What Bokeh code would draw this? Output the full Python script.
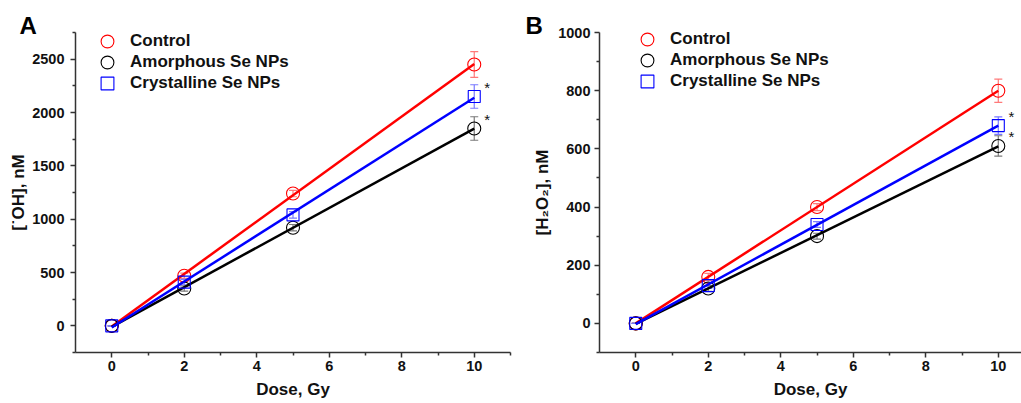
import numpy as np
from bokeh.plotting import figure
from bokeh.models import (Range1d, ColumnDataSource, Whisker, TeeHead, Legend, LegendItem,
                          Title, FixedTicker)
from bokeh.layouts import row
from bokeh.embed import file_html
from bokeh.resources import INLINE
from bokeh.core.properties import value

# ---------------- data ----------------
dose = [0, 2, 5, 10]
series_names = ["Control", "Amorphous Se NPs", "Crystalline Se NPs"]

oh_control = [0, 470, 1240, 2450]
oh_control_err = [0, 25, 30, 120]
oh_amorph = [0, 350, 920, 1850]
oh_amorph_err = [0, 25, 30, 110]
oh_cryst = [0, 410, 1040, 2150]
oh_cryst_err = [0, 25, 30, 110]

h2o2_control = [0, 160, 400, 800]
h2o2_control_err = [0, 12, 12, 40]
h2o2_amorph = [0, 120, 300, 610]
h2o2_amorph_err = [0, 10, 10, 35]
h2o2_cryst = [0, 130, 340, 680]
h2o2_cryst_err = [0, 10, 10, 30]

sig_flags = [False, True, True]   # asterisk at the 10 Gy point

x_ticks = [0, 2, 4, 6, 8, 10]
oh_ticks = [0, 500, 1000, 1500, 2000, 2500]
h2o2_ticks = [0, 200, 400, 600, 800, 1000]

colors = ["#FF0000", "#000000", "#0000FF"]
err_colors = ["#FF7A7A", "#7A7A7A", "#7A7AFF"]
markers = ["circle", "circle", "square"]

FONT = "Liberation Sans"


def make_panel(letter, letter_offset, ylabel, series, errs, yrange, xrange, yticks, yminor,
               width, bl, br, ystand, ylstand, legend_vx, legend_vys):
    p = figure(width=width, height=403, output_backend="svg", toolbar_location=None,
               x_range=Range1d(*xrange), y_range=Range1d(*yrange),
               min_border_left=bl, min_border_right=br, min_border_top=32,
               min_border_bottom=51)
    p.title = Title(text=letter, align="left", offset=letter_offset, standoff=-12,
                    text_font=FONT, text_font_style="bold", text_font_size="24px",
                    text_color="#000000")
    p.outline_line_color = None
    p.xgrid.visible = False
    p.ygrid.visible = False
    p.background_fill_color = "white"

    for ax in (p.xaxis[0], p.yaxis[0]):
        ax.axis_line_color = "#333333"
        ax.axis_line_width = 1.5
        ax.major_tick_line_color = "#333333"
        ax.minor_tick_line_color = "#333333"
        ax.major_tick_line_width = 1.5
        ax.minor_tick_line_width = 1.5
        ax.major_tick_out = 5
        ax.major_tick_in = 0
        ax.minor_tick_out = 3
        ax.minor_tick_in = 0
        ax.major_label_text_font = FONT
        ax.major_label_text_font_style = "bold"
        ax.major_label_text_font_size = "14.5px"
        ax.major_label_text_color = "#111111"
        ax.axis_label_text_font = FONT
        ax.axis_label_text_font_style = "bold"
        ax.axis_label_text_font_size = "17px"
        ax.axis_label_text_color = "#111111"

    p.xaxis.ticker = FixedTicker(ticks=x_ticks, minor_ticks=[1, 3, 5, 7, 9, 11])
    p.yaxis.ticker = FixedTicker(ticks=yticks, minor_ticks=yminor)
    p.xaxis.axis_label = "Dose, Gy"
    p.xaxis.major_label_standoff = 3
    p.xaxis.axis_label_standoff = 6
    p.yaxis.axis_label = ylabel
    p.yaxis.major_label_standoff = ystand
    p.yaxis.axis_label_standoff = ylstand

    for i, (vals, ev) in enumerate(zip(series, errs)):
        # linear fit line
        k, b = np.polyfit(dose, vals, 1)
        xs = [dose[0], dose[-1]]
        p.line(xs, [k * xx + b for xx in xs], line_color=colors[i], line_width=2.5)
        src = ColumnDataSource(dict(x=dose, y=vals,
                                    up=[v + e for v, e in zip(vals, ev)],
                                    lo=[v - e for v, e in zip(vals, ev)]))
        w = Whisker(source=src, base="x", upper="up", lower="lo",
                    line_color=err_colors[i], line_width=1.2,
                    upper_head=TeeHead(size=8, line_color=err_colors[i], line_width=1.2),
                    lower_head=TeeHead(size=8, line_color=err_colors[i], line_width=1.2))
        p.add_layout(w)
        r = p.scatter("x", "y", source=src, marker=markers[i],
                      size=13 if markers[i] == "circle" else 12,
                      line_color=colors[i], fill_color=None, line_width=1.1)
        leg = Legend(items=[LegendItem(label=series_names[i], renderers=[r])],
                     location=(legend_vx, legend_vys[i]), margin=0, padding=0,
                     glyph_width=32, glyph_height=32, label_height=32, spacing=0,
                     label_standoff=7, border_line_alpha=0, background_fill_alpha=0,
                     label_text_font=FONT, label_text_font_style="bold",
                     label_text_font_size="17px", label_text_color="#111111")
        p.add_layout(leg)
        if sig_flags[i]:
            p.text(x=[dose[-1]], y=[vals[-1]], text=["*"], x_offset=13, y_offset=-9,
                   text_font=value(FONT), text_font_size="15px",
                   text_align="center", text_baseline="middle", text_color="#111111")
    return p


pA = make_panel("A", -56, "[\u02D9OH], nM",
                [oh_control, oh_amorph, oh_cryst],
                [oh_control_err, oh_amorph_err, oh_cryst_err],
                (-250, 2750), (-1, 11), oh_ticks, [-250, 250, 750, 1250, 1750, 2250, 2750],
                523, 75, 13, 6, 1, 16, [295, 274, 253])
pB = make_panel("B", -74, "[H\u2082O\u2082], nM",
                [h2o2_control, h2o2_amorph, h2o2_cryst],
                [h2o2_control_err, h2o2_amorph_err, h2o2_cryst_err],
                (-100, 1000), (-1, 10.64), h2o2_ticks, [-100, 100, 300, 500, 700, 900],
                498, 76, 0, 4, 3, 32, [297, 276, 255])

layout = row(pA, pB)
open("out.html", "w").write(file_html(layout, INLINE))
